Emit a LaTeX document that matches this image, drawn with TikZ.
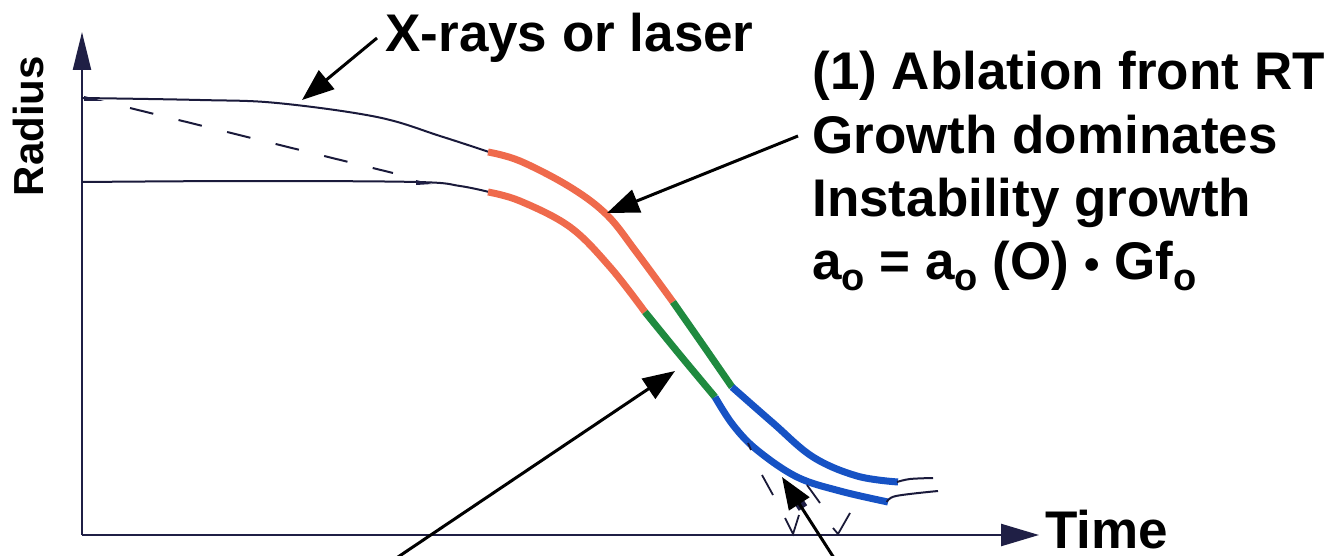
\documentclass[tikz,border=0pt]{standalone}
\usepackage{fontspec}
\setmainfont{Liberation Sans}
\usetikzlibrary{arrows.meta}
\definecolor{abl}{HTML}{EF6A4C}
\definecolor{grn}{HTML}{1F8A3F}
\definecolor{blu}{HTML}{1652C4}
\definecolor{axc}{HTML}{1F1F45}
\newcommand{\lowo}{\raisebox{-5.5pt}{\fontsize{19}{19}\selectfont o}}
\newcommand{\bigdot}{{\fontsize{22}{22}\selectfont •}}
\begin{document}
\begin{tikzpicture}[x={(0.5pt,0)}, y={(0,-0.5pt)},
  axisline/.style={draw=axc, line width=1.2pt},
  thincurve/.style={draw=axc!85!black, line width=1pt},
  hot/.style={line width=3.5pt},
  arr/.style={draw=black, line width=1.5pt, -{Triangle[length=16pt,width=12pt]}},
  lbl/.style={font=\fontsize{26.5}{31.5}\selectfont\bfseries, inner sep=0pt, anchor=base west},
  scrib/.style={draw=axc!80!black, line width=0.9pt},
  dashline/.style={draw=axc!85!black, line width=1pt, dash pattern=on 12pt off 13pt}
]
\useasboundingbox (0,0) rectangle (1332,556);
\clip (0,0) rectangle (1332,556);

% axes
\coordinate (O) at (82,535);
\coordinate (ytip) at (82,32);
\coordinate (xtip) at (1039,535);
\draw[axisline, -{Triangle[length=19pt,width=9pt]}] (O) -- (ytip);
\draw[axisline, -{Triangle[length=19pt,width=11pt]}] (O) -- (xtip);

\node[font=\fontsize{21}{21}\selectfont\bfseries, inner sep=0pt, anchor=base, rotate=90] (radius) at (43,126) {Radius};
\node[lbl, text depth=0pt] (time) at (1045,548) {Time};

% upper curve
\draw[thincurve] plot[smooth, tension=0.6] coordinates {(82,98) (200,100) (277,103) (377,117) (440,136) (489,152)};
\draw[abl, hot] plot[smooth, tension=0.6] coordinates {(488,152) (520,161) (570,187) (607,215) (637,253) (673,302)};
\draw[grn, hot] plot[smooth, tension=0.6] coordinates {(673,302) (703,345) (732,387)};
\draw[blu, hot] plot[smooth, tension=0.6] coordinates {(732,387) (773,423) (813,457) (857,476) (898,482)};
\draw[thincurve] plot[smooth, tension=0.6] coordinates {(897,482) (910,479) (933,478)};

% lower curve
\draw[thincurve] plot[smooth, tension=0.6] coordinates {(82,182) (250,181) (417,182) (460,186) (489,192)};
\draw[abl, hot] plot[smooth, tension=0.6] coordinates {(488,192) (520,201) (570,227) (610,267) (645,312)};
\draw[grn, hot] plot[smooth, tension=0.6] coordinates {(645,312) (680,355) (715,397)};
\draw[blu, hot] plot[smooth, tension=0.6] coordinates {(715,397) (733,425) (757,450) (797,477) (840,491) (888,502)};
\draw[thincurve] plot[smooth, tension=0.6] coordinates {(887,502) (896,496) (938,491)};

% dashed line
\draw[dashline] (130,108) -- (393,173);

% small marks
\fill[axc] (84,96) -- (104,101) -- (84,101) -- cycle;
\fill[axc] (416,180) -- (432,184) -- (416,185) -- cycle;
\draw[scrib] (748,443) -- (751,450);
\draw[scrib] (762,475) -- (773,495);
\draw[scrib] (807,485) -- (820,503);
\draw[scrib] (785,518) -- (793,534) -- (799,515);
\draw[scrib] (833,528) -- (838,534) -- (850,513);
\draw[axc, line width=5pt] (797,499) -- (803,508);

% labels
\node[lbl] (xr) at (385,52) {X-rays or laser};
\node[lbl] (ab1) at (812,90) {(1) Ablation front RT};
\node[lbl] (ab2) at (812,153) {Growth dominates};
\node[lbl] (ab3) at (812,216) {Instability growth};
\node[lbl] (ab4) at (812,279) {a\lowo{} = a\lowo{} (O) \bigdot{} Gf\lowo};

% arrows
\coordinate (xrtail) at (377,38);
\coordinate (xrtip) at (302,100);
\coordinate (abtail) at (798,136);
\coordinate (abtip) at (607,213);
\coordinate (g tail) at (395,559);
\coordinate (g tip) at (675,371);
\coordinate (b tail) at (834,558);
\coordinate (b tip) at (782,477);
\draw[arr] (xrtail) -- (xrtip);
\draw[arr] (abtail) -- (abtip);
\draw[arr] (g tail) -- (g tip);
\draw[arr] (b tail) -- (b tip);
\end{tikzpicture}
\end{document}
